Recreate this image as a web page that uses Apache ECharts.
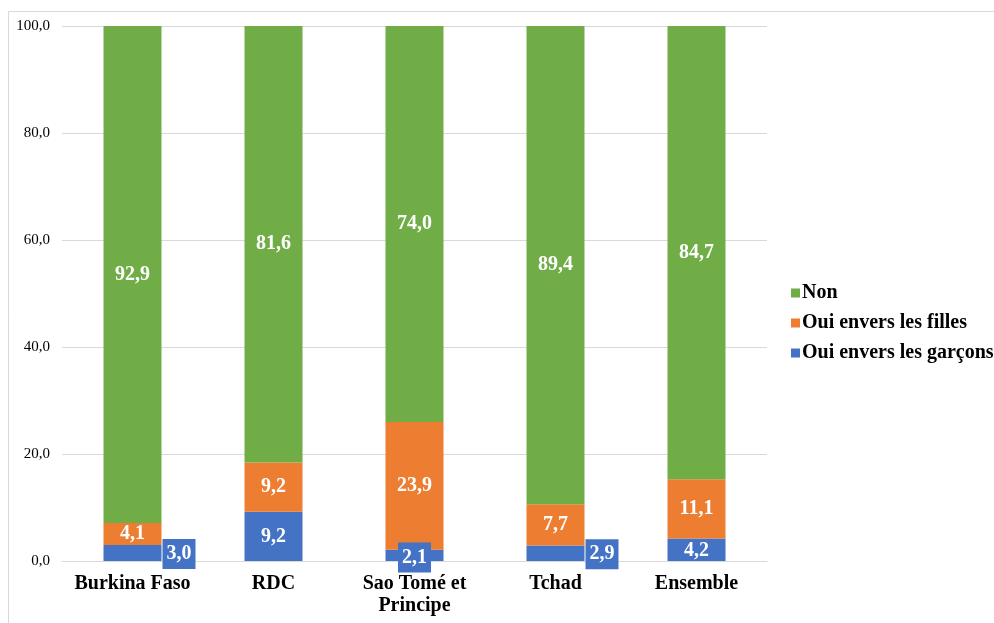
<!DOCTYPE html>
<html>
<head>
<meta charset="utf-8">
<script src="https://cdn.jsdelivr.net/npm/echarts@6/dist/echarts.min.js"></script>
<style>
  html, body { margin: 0; padding: 0; background: #fff; }
  #chart { width: 994px; height: 623px; }
</style>
</head>
<body>
<div id="chart"></div>
<script>
const categories = ['Burkina Faso', 'RDC', 'Sao Tomé et\nPrincipe', 'Tchad', 'Ensemble']
const garcons = [3.0, 9.2, 2.1, 2.9, 4.2]
const filles = [4.1, 9.2, 23.9, 7.7, 11.1]
const non = [92.9, 81.6, 74.0, 89.4, 84.7]
const yTicks = [0, 20, 40, 60, 80, 100]

const serif = '"Liberation Serif", "Times New Roman", serif'
const fmt = v => v.toFixed(1).replace('.', ',')
const blue = '#4472C4'

const chart = echarts.init(document.getElementById('chart'))

const labelBase = {
  show: true,
  color: '#fff',
  fontFamily: serif,
  fontWeight: 'bold',
  fontSize: 20,
  formatter: p => fmt(p.value)
}

// petites valeurs garçons : encadré bleu (à droite de la barre pour BF et Tchad)
const boxed = { backgroundColor: blue, padding: [6, 4, 4, 4] }
const garconsData = garcons.map((v, i) => {
  const item = { value: v }
  if (i === 0 || i === 3) {
    item.label = Object.assign({ position: 'right', distance: 1, offset: [0, 1] }, boxed)
  } else if (i === 2) {
    item.label = Object.assign({ position: 'inside', offset: [0, 2] }, boxed)
  } else if (i === 4) {
    item.label = { position: 'inside', offset: [0, 1] }
  }
  return item
})

const option = {
  backgroundColor: '#fff',
  animation: false,
  graphic: [{
    type: 'rect',
    shape: { x: 8.5, y: 11.5, width: 1000, height: 700 },
    style: { fill: 'none', stroke: '#d9d9d9', lineWidth: 1 },
    silent: true
  }],
  grid: { left: 62, right: 227, top: 26, bottom: 62 },
  legend: {
    orient: 'vertical',
    left: 786,
    top: 278,
    itemWidth: 9,
    itemHeight: 9,
    itemGap: 10,
    icon: 'rect',
    data: ['Non', 'Oui envers les filles', 'Oui envers les garçons'],
    textStyle: { fontFamily: serif, fontWeight: 'bold', fontSize: 20, color: '#000', padding: [0, 0, 0, -3] }
  },
  xAxis: {
    type: 'category',
    data: categories,
    axisTick: { show: false },
    axisLine: { lineStyle: { color: '#d9d9d9' } },
    axisLabel: {
      margin: 12,
      interval: 0,
      fontFamily: serif,
      fontWeight: 'bold',
      fontSize: 20,
      lineHeight: 22,
      color: '#000'
    }
  },
  yAxis: {
    type: 'value',
    min: yTicks[0],
    max: yTicks[yTicks.length - 1],
    interval: 20,
    axisLabel: {
      margin: 12,
      fontFamily: serif,
      fontSize: 15,
      color: '#000',
      formatter: v => fmt(v)
    },
    splitLine: { lineStyle: { color: '#d9d9d9' } }
  },
  series: [
    {
      name: 'Oui envers les garçons',
      type: 'bar',
      stack: 'total',
      barWidth: 58,
      data: garconsData,
      itemStyle: { color: blue },
      label: Object.assign({}, labelBase, { position: 'inside' })
    },
    {
      name: 'Oui envers les filles',
      type: 'bar',
      stack: 'total',
      data: filles,
      itemStyle: { color: '#ED7D31' },
      label: Object.assign({}, labelBase, { position: 'inside' })
    },
    {
      name: 'Non',
      type: 'bar',
      stack: 'total',
      data: non,
      itemStyle: { color: '#70AD47' },
      label: Object.assign({}, labelBase, { position: 'inside' })
    }
  ]
}

chart.setOption(option)
window.addEventListener('resize', () => chart.resize())
</script>
</body>
</html>
